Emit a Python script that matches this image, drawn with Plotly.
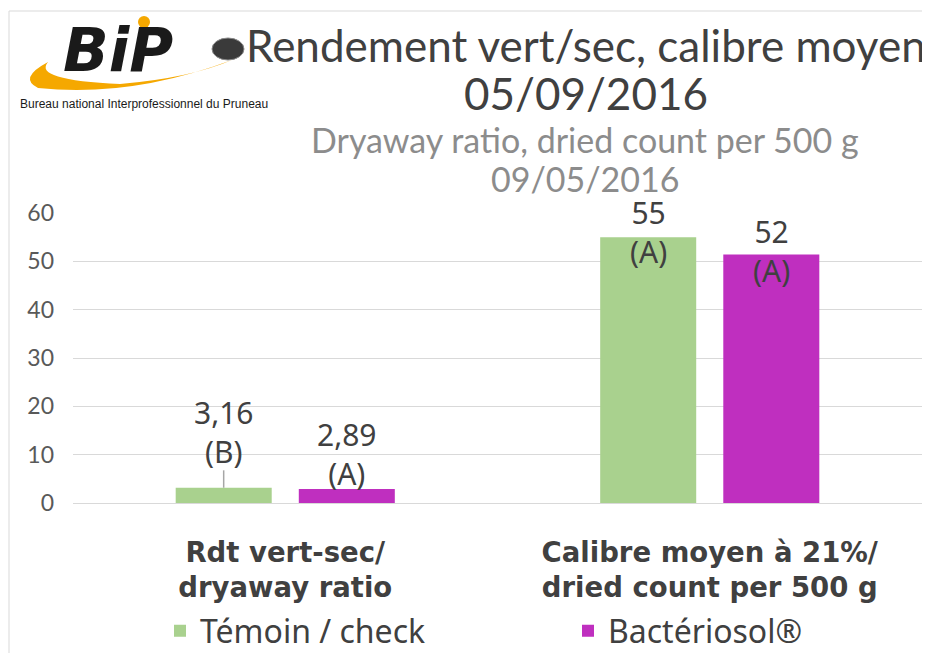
import plotly.graph_objects as go

# ---- data ----
categories = ["Rdt vert-sec/<br>dryaway ratio", "Calibre moyen à 21%/<br>dried count per 500 g"]
series_names = ["Témoin / check", "Bactériosol®"]
temoin_values = [3.16, 55.0]
bacterio_values = [2.89, 51.4]
temoin_labels = ["3,16<br>(B)", "55<br>(A)"]
bacterio_labels = ["2,89<br>(A)", "52<br>(A)"]
y_ticks = [0, 10, 20, 30, 40, 50, 60]

# ---- styling ----
GREEN = "#a9d18e"
PURPLE = "#bf2fbf"
OFF = 8  # page body margin
W, H = 930 - OFF, 653 - OFF
L, R, T, B = 73 - OFF, 8, 213 - OFF, 150
PW, PH = W - L - R, H - T - B


def px(x):
    return (x - OFF - L) / PW


def py(y):
    return (H - B - (y - OFF)) / PH


fig = go.Figure()
fig.add_trace(go.Bar(name=series_names[0], x=categories, y=temoin_values,
                     marker=dict(color=GREEN, line=dict(width=0)), legend="legend"))
fig.add_trace(go.Bar(name=series_names[1], x=categories, y=bacterio_values,
                     marker=dict(color=PURPLE, line=dict(width=0)), legend="legend2"))

label_font = dict(family="Noto Sans, Open Sans, sans-serif", size=30, color="#404040")
offset_px = 61.5
temoin_yshift = [14, -37]
bacterio_yshift = [-7, -38]
annotations = []
for i, c in enumerate(categories):
    annotations.append(dict(x=c, y=temoin_values[i], xref="x", yref="y", text=temoin_labels[i],
                            showarrow=False, xshift=-offset_px, yshift=temoin_yshift[i],
                            yanchor="bottom", font=label_font))
    annotations.append(dict(x=c, y=bacterio_values[i], xref="x", yref="y", text=bacterio_labels[i],
                            showarrow=False, xshift=offset_px, yshift=bacterio_yshift[i],
                            yanchor="bottom", font=label_font))

title_font = dict(family="Lato, Open Sans, sans-serif", size=44, color="#404040")
sub_font = dict(family="Lato, Open Sans, sans-serif", size=34, color="#8c8c8c")
annotations += [
    dict(x=px(586), y=py(45), xref="paper", yref="paper", text="Rendement vert/sec, calibre moyen",
         showarrow=False, font=title_font, xanchor="center", yanchor="middle"),
    dict(x=px(586), y=py(93), xref="paper", yref="paper", text="05/09/2016",
         showarrow=False, font=title_font, xanchor="center", yanchor="middle"),
    dict(x=px(585), y=py(139), xref="paper", yref="paper", text="Dryaway ratio, dried count per 500 g",
         showarrow=False, font=sub_font, xanchor="center", yanchor="middle"),
    dict(x=px(585), y=py(178), xref="paper", yref="paper", text="09/05/2016",
         showarrow=False, font=sub_font, xanchor="center", yanchor="middle"),
    # logo text
    dict(x=px(118), y=py(50), xref="paper", yref="paper", text="<i><b>BiP</b></i>",
         showarrow=False, font=dict(family="DejaVu Sans, sans-serif", size=60, color="#1a1a1a"),
         xanchor="center", yanchor="middle"),
    dict(x=px(18), y=py(104), xref="paper", yref="paper",
         text="Bureau national Interprofessionnel du Pruneau",
         showarrow=False, font=dict(family="Liberation Sans Narrow, Liberation Sans, sans-serif",
                                    size=12, color="#1a1a1a"),
         xanchor="left", yanchor="middle"),
]


def path_from(points):
    s = "M {:.4f},{:.4f}".format(px(points[0][0]), py(points[0][1]))
    for i in range(1, len(points), 2):
        (cx, cy), (ex, ey) = points[i], points[i + 1]
        s += " Q {:.4f},{:.4f} {:.4f},{:.4f}".format(px(cx), py(cy), px(ex), py(ey))
    return s + " Z"


swoosh = [(232, 60), (130, 98), (38, 88), (18, 78), (48, 62),
          (32, 80), (120, 84), (190, 78), (232, 60)]

shapes = [
    # slide frame
    dict(type="line", xref="paper", yref="paper", x0=px(9), x1=px(926), y0=py(11), y1=py(11),
         line=dict(color="#d9d9d9", width=1)),
    dict(type="line", xref="paper", yref="paper", x0=px(9), x1=px(9), y0=py(11), y1=py(653),
         line=dict(color="#d9d9d9", width=1)),
    # logo swoosh, dot and prune
    dict(type="path", xref="paper", yref="paper", path=path_from(swoosh),
         fillcolor="#f5a800", line=dict(width=0)),
    dict(type="circle", xref="paper", yref="paper", x0=px(138), x1=px(150), y0=py(16), y1=py(28),
         fillcolor="#f5a800", line=dict(width=0)),
    dict(type="circle", xref="paper", yref="paper", x0=px(212), x1=px(244), y0=py(38), y1=py(60),
         fillcolor="#3a3a3a", line=dict(color="#888888", width=1)),
    # leader line for first label
    dict(type="line", xref="x", yref="y", x0=categories[0], x1=categories[0],
         x0shift=-offset_px / 424, x1shift=-offset_px / 424,
         y0=temoin_values[0], y1=temoin_values[0] + 3.6,
         line=dict(color="#a6a6a6", width=1.5)),
]

legend_font = dict(family="Noto Sans, Open Sans, sans-serif", size=32, color="#404040")
fig.update_layout(
    width=W, height=H,
    margin=dict(l=L, r=R, t=T, b=B, autoexpand=False),
    paper_bgcolor="white", plot_bgcolor="white",
    barmode="group", bargap=0.42, bargroupgap=0.22,
    font=dict(family="Noto Sans, Open Sans, sans-serif", color="#404040"),
    xaxis=dict(tickfont=dict(family="DejaVu Sans, sans-serif", size=27.5, color="#404040",
                             weight="bold"),
               showgrid=False, showline=False, ticks="", ticklabelstandoff=30),
    yaxis=dict(range=[0, 60], tickvals=y_ticks, showgrid=True, gridcolor="#d9d9d9", gridwidth=1,
               zeroline=True, zerolinecolor="#d9d9d9", zerolinewidth=1, showline=False,
               tickfont=dict(family="Lato, Open Sans, sans-serif", size=23, color="#595959"),
               ticklabelstandoff=18),
    legend=dict(orientation="h", x=px(160), xanchor="left", y=py(631), yanchor="middle",
                font=legend_font, itemwidth=30, bgcolor="rgba(0,0,0,0)"),
    legend2=dict(orientation="h", x=px(568), xanchor="left", y=py(631), yanchor="middle",
                 font=legend_font, itemwidth=30, bgcolor="rgba(0,0,0,0)"),
    annotations=annotations,
    shapes=shapes,
    showlegend=True,
)

fig.write_html("out.html")
